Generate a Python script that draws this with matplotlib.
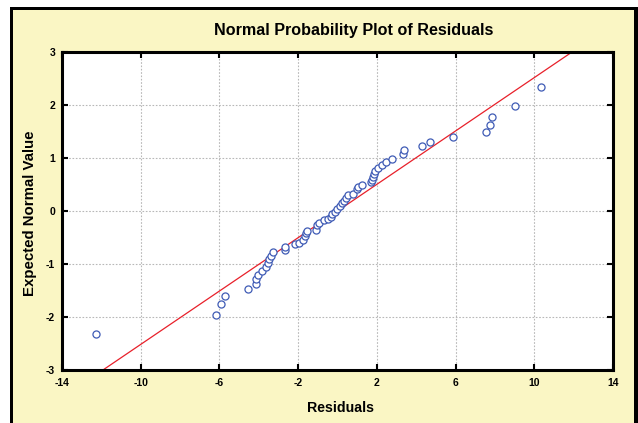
import matplotlib
matplotlib.use("Agg")
import matplotlib.pyplot as plt
from matplotlib.patches import Rectangle

plt.rcParams['font.family'] = ['Liberation Sans', 'DejaVu Sans']

# Residuals (x) and expected normal values (y)
residuals = [-12.29, -6.17, -5.92, -5.70, -4.56, -4.16, -4.13, -4.06, -3.84, -3.65,
             -3.55, -3.47, -3.39, -3.29, -2.67, -2.67, -2.16, -1.96, -1.77, -1.65,
             -1.60, -1.57, -1.11, -1.06, -0.94, -0.67, -0.50, -0.35, -0.26, -0.13,
             -0.04, 0.13, 0.21, 0.33, 0.42, 0.55, 0.80, 0.97, 1.06, 1.26,
             1.70, 1.77, 1.82, 1.85, 1.91, 2.07, 2.25, 2.45, 2.75, 3.34,
             3.39, 4.29, 4.70, 5.85, 7.56, 7.76, 7.83, 9.04, 10.34]
expected = [-2.32, -1.96, -1.75, -1.60, -1.47, -1.38, -1.29, -1.21, -1.13, -1.05,
            -0.98, -0.91, -0.85, -0.77, -0.74, -0.67, -0.63, -0.61, -0.55, -0.48,
            -0.42, -0.38, -0.35, -0.26, -0.22, -0.17, -0.16, -0.11, -0.06, -0.01,
            0.03, 0.09, 0.15, 0.19, 0.24, 0.30, 0.33, 0.41, 0.45, 0.49,
            0.54, 0.58, 0.65, 0.70, 0.76, 0.82, 0.87, 0.92, 0.98, 1.08,
            1.16, 1.23, 1.31, 1.40, 1.50, 1.63, 1.78, 1.98, 2.34]

# Reference line (fit)
line_intercept = 0.0
line_slope = 0.2517

x_ticks = [-14, -10, -6, -2, 2, 6, 10, 14]
y_ticks = [-3, -2, -1, 0, 1, 2, 3]

W, H = 638, 423
fig = plt.figure(figsize=(W / 100, H / 100), dpi=100)
fig.patch.set_facecolor('white')

bg = '#faf6c4'
# yellow panel and black frame
fig.add_artist(Rectangle((13 / W, 0), (634 - 13) / W, (H - 10) / H,
                         transform=fig.transFigure, facecolor=bg, edgecolor='none', zorder=-10))
fig.add_artist(Rectangle((10 / W, 0), 3 / W, (H - 7) / H,
                         transform=fig.transFigure, facecolor='black', edgecolor='none', zorder=-9))
fig.add_artist(Rectangle((10 / W, (H - 10) / H), (W - 10) / W, 3 / H,
                         transform=fig.transFigure, facecolor='black', edgecolor='none', zorder=-9))
fig.add_artist(Rectangle((634 / W, 0), 4 / W, (H - 7) / H,
                         transform=fig.transFigure, facecolor='black', edgecolor='none', zorder=-9))

ax = fig.add_axes([62 / W, 1 - 370 / H, (613 - 62) / W, (370 - 52) / H])
ax.set_facecolor('white')
ax.set_xlim(-14, 14)
ax.set_ylim(-3, 3)
ax.set_xticks(x_ticks)
ax.set_yticks(y_ticks)
ax.set_xticklabels([str(t) for t in x_ticks], fontsize=7.5, fontweight='bold')
ax.set_yticklabels([str(t) for t in y_ticks], fontsize=7.5, fontweight='bold')
ax.tick_params(direction='in', length=4, width=1.5, top=True, right=True, pad=6)
ax.tick_params(axis='y', pad=5)
for s in ax.spines.values():
    s.set_linewidth(2.2)
    s.set_color('black')
ax.grid(True, color='#b8b8b8', linestyle=(0, (1.5, 1.5)), linewidth=0.8)
ax.set_axisbelow(True)

ax.axline((0, line_intercept), slope=line_slope, color='#e8202a', linewidth=0.9, zorder=2)
ax.scatter(residuals, expected, s=26, facecolors='white', edgecolors='#3f5bb5',
           linewidths=0.9, zorder=3)

fig.text(354 / W, 1 - 31 / H, 'Normal Probability Plot of Residuals',
         ha='center', va='center', fontsize=11.6, fontweight='bold')
fig.text(341 / W, 1 - 408 / H, 'Residuals',
         ha='center', va='center', fontsize=10.2, fontweight='bold')
fig.text(30 / W, 1 - 213 / H, 'Expected Normal Value', rotation=90,
         ha='center', va='center', fontsize=10.8, fontweight='bold')

fig.savefig('out.png', dpi=100, facecolor=fig.get_facecolor())
